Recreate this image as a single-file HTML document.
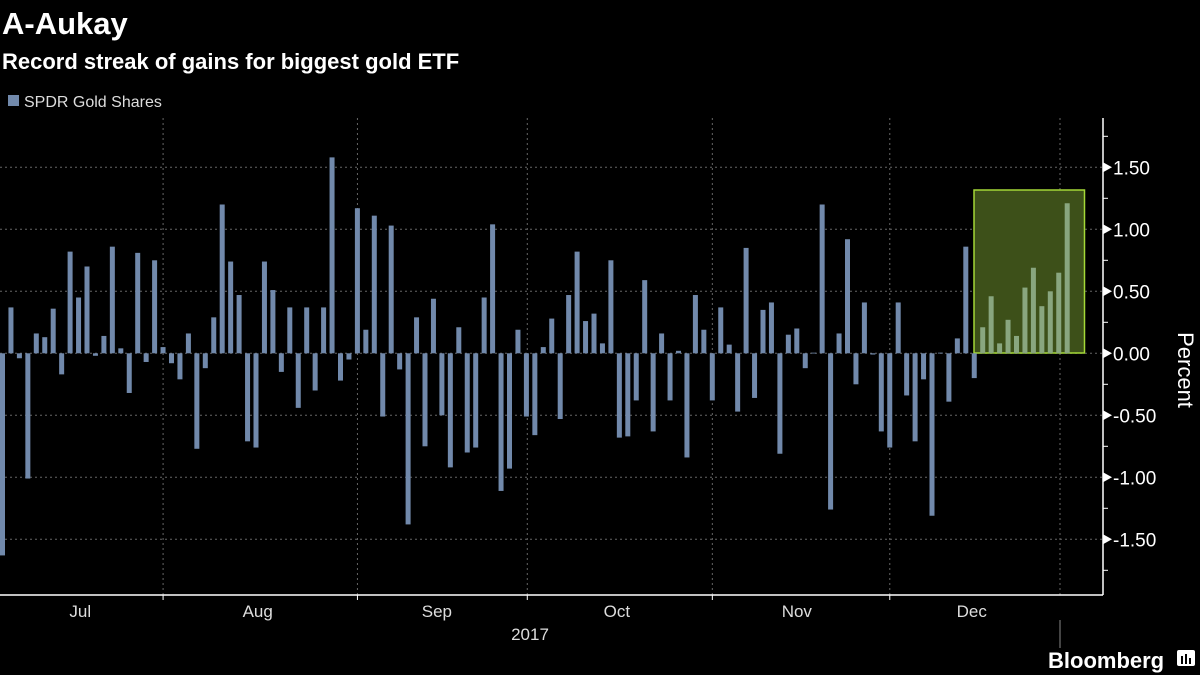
<!DOCTYPE html>
<html><head><meta charset="utf-8"><style>
body{margin:0;background:#000;width:1200px;height:675px;overflow:hidden;font-family:"Liberation Sans",sans-serif;color:#fff}
svg{position:absolute;left:0;top:0}
</style></head><body>
<svg width="1200" height="675">
<text x="2" y="34" font-size="31" font-weight="bold" fill="#fff">A-Aukay</text>
<text x="2" y="69" font-size="22" font-weight="bold" fill="#fff">Record streak of gains for biggest gold ETF</text>
<rect x="8" y="95" width="11" height="11" fill="#7189ab"/>
<text x="24" y="107" font-size="16" fill="#ddd">SPDR Gold Shares</text>
<g id="grid"></g>
<rect x="974" y="190" width="110.5" height="163" fill="#3d5019" stroke="#a4d837" stroke-width="1.5"/>
<g id="bars"></g>
<g id="axes"></g>
<text transform="translate(1178,370) rotate(90)" font-size="22" fill="#fff" text-anchor="middle">Percent</text>
<text x="530" y="640" font-size="17" fill="#ddd" text-anchor="middle">2017</text>
<line x1="1060" y1="620" x2="1060" y2="648" stroke="#888" stroke-width="1"/>
<text x="1048" y="668" font-size="22" font-weight="bold" fill="#fff">Bloomberg</text>
<g><rect x="1177" y="650" width="18" height="16" rx="2" fill="#fff"/><rect x="1181" y="656" width="2" height="8" fill="#000"/><rect x="1185" y="654" width="2" height="10" fill="#000"/><rect x="1189" y="658" width="2" height="6" fill="#000"/></g>
</svg>
<script>
const values = [-1.63,0.37,-0.04,-1.01,0.16,0.13,0.36,-0.17,0.82,0.45,0.70,-0.02,0.14,0.86,0.04,-0.32,0.81,-0.07,0.75,0.05,-0.08,-0.21,0.16,-0.77,-0.12,0.29,1.20,0.74,0.47,-0.71,-0.76,0.74,0.51,-0.15,0.37,-0.44,0.37,-0.30,0.37,1.58,-0.22,-0.05,1.17,0.19,1.11,-0.51,1.03,-0.13,-1.38,0.29,-0.75,0.44,-0.50,-0.92,0.21,-0.80,-0.76,0.45,1.04,-1.11,-0.93,0.19,-0.51,-0.66,0.05,0.28,-0.53,0.47,0.82,0.26,0.32,0.08,0.75,-0.68,-0.67,-0.38,0.59,-0.63,0.16,-0.38,0.02,-0.84,0.47,0.19,-0.38,0.37,0.07,-0.47,0.85,-0.36,0.35,0.41,-0.81,0.15,0.20,-0.12,0.005,1.20,-1.26,0.16,0.92,-0.25,0.41,-0.01,-0.63,-0.76,0.41,-0.34,-0.71,-0.21,-1.31,0.005,-0.39,0.12,0.86,-0.20,0.21,0.46,0.08,0.27,0.14,0.53,0.69,0.38,0.50,0.65,1.21];
const highlightStart = 116;
const yTicks = [1.5,1.0,0.5,0,-0.5,-1.0,-1.5];
const yTickLabels = ["1.50","1.00","0.50","0.00","-0.50","-1.00","-1.50"];
const months = ["Jul","Aug","Sep","Oct","Nov","Dec"];
const monthStartIdx = [0,19.3,42.3,62.4,84.3,105.3];
const monthLabelIdx = [9.5,30.5,51.7,73,94.3,115];

const NS="http://www.w3.org/2000/svg";
const step=8.45, barW=5, y0=353.3, perUnit=124, axisX=1103, axisY=595, plotTop=118;
const xS=i=>i*step;
const yS=v=>y0-v*perUnit;
function mk(tag,attrs,parent){const e=document.createElementNS(NS,tag);for(const k in attrs)e.setAttribute(k,attrs[k]);parent.appendChild(e);return e;}
const grid=document.getElementById('grid'),bars=document.getElementById('bars'),axes=document.getElementById('axes');
yTicks.forEach((t,i)=>{
  const l=mk('line',{x1:0,x2:axisX,y1:yS(t),y2:yS(t),stroke:'#666','stroke-dasharray':'2,3'},grid);
  
  
  const p=mk('path',{d:`M${axisX} ${yS(t)-5}L${axisX+9} ${yS(t)}L${axisX} ${yS(t)+5}Z`,fill:'#fff'},axes);
  
  
  const tx=mk('text',{x:axisX+10,y:yS(t)+7,'font-size':19,fill:'#fff'},axes);
  tx.textContent=yTickLabels[i];
  
  
});
for(let v=-1.75;v<=1.76;v+=0.5){
  const m=mk('line',{x1:axisX,x2:axisX+5,y1:yS(v),y2:yS(v),stroke:'#fff'},axes);
  
  
}
monthStartIdx.forEach((s,i)=>{
  if(i>0){
    const gx=xS(s);
    const l=mk('line',{x1:gx,x2:gx,y1:plotTop,y2:axisY,stroke:'#666','stroke-dasharray':'2,3'},grid);
    
    
    const t=mk('line',{x1:gx,x2:gx,y1:axisY,y2:axisY+5,stroke:'#fff'},axes);
    
    
  }
  const tx=mk('text',{x:xS(monthLabelIdx[i]),y:617,'font-size':17,fill:'#ddd','text-anchor':'middle'},axes);
  tx.textContent=months[i];
  
  
});
const g2=mk('line',{x1:1060,x2:1060,y1:plotTop,y2:axisY,stroke:'#666','stroke-dasharray':'2,3'},grid);


values.forEach((v,i)=>{
  const y=Math.min(yS(v),y0),h=Math.max(Math.abs(v)*perUnit,0.8);
  const r=mk('rect',{x:xS(i),y:y,width:barW,height:h,fill:i>=highlightStart?'#89a67f':'#7189ab'},bars);
  
  
});
const ax=mk('line',{x1:axisX,x2:axisX,y1:plotTop,y2:axisY,stroke:'#fff','stroke-width':1.5},axes);


const bx=mk('line',{x1:0,x2:axisX,y1:axisY,y2:axisY,stroke:'#fff','stroke-width':1.5},axes);


</script>
</body></html>
